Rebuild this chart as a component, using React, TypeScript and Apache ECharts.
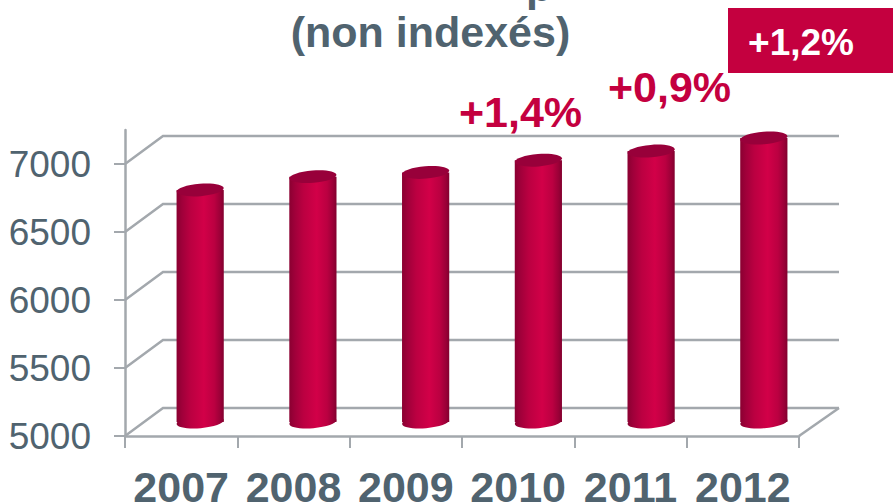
import React, { useEffect, useRef } from "react";
import * as echarts from "echarts";

const years = ["2007", "2008", "2009", "2010", "2011", "2012"];
const values = [6706, 6804, 6835, 6925, 6992, 7088];
const yTicks = [5000, 5500, 6000, 6500, 7000];
const subtitle = "(non indexés)";
const growthLabels = ["+1,4%", "+0,9%", "+1,2%"];

const FONT = '"Liberation Sans", Arial, sans-serif';
const SLATE = "#50636f";
const CRIMSON = "#c4003f";
const LINE = "#a3a8ad";
const DEPTH_X = 38;
const DEPTH_Y = 28;
const RIGHT_EXTRA = 40;

export default function App() {
  const ref = useRef<HTMLDivElement>(null);
  useEffect(() => {
    document.body.style.margin = "0";
    const chart = echarts.init(ref.current!, null, { renderer: "svg" });
    const bodyFill = {
      type: "linear", x: 0, y: 0, x2: 1, y2: 0,
      colorStops: [
        { offset: 0, color: "#8a0031" },
        { offset: 0.12, color: "#a0003a" },
        { offset: 0.3, color: "#bb0041" },
        { offset: 0.58, color: "#d20048" },
        { offset: 0.8, color: "#bb0041" },
        { offset: 0.93, color: "#9a0037" },
        { offset: 1, color: "#82002e" },
      ],
    };
    chart.setOption({
      animation: false,
      backgroundColor: "#fff",
      grid: { left: 125, right: 94, top: 130, height: 306, outerBoundsMode: "none" },
      xAxis: {
        type: "category",
        data: years,
        axisLine: { lineStyle: { color: LINE, width: 2.5 } },
        axisTick: { show: true, alignWithLabel: false, length: 12, lineStyle: { color: LINE, width: 2 } },
        axisLabel: { interval: 0, fontFamily: FONT, fontWeight: "bold", fontSize: 43, color: SLATE, margin: 29 },
      },
      yAxis: {
        type: "value",
        min: 5000,
        max: 7250,
        interval: 500,
        splitLine: { show: false },
        axisLine: { show: true, lineStyle: { color: LINE, width: 2.5 } },
        axisTick: { show: true, length: 11, customValues: yTicks, lineStyle: { color: LINE, width: 2 } },
        axisLabel: { customValues: yTicks, formatter: (v: number) => String(v), fontFamily: FONT, fontSize: 37, color: SLATE, margin: 34 },
      },
      series: [
        {
          type: "custom",
          clip: false,
          silent: true,
          z: 1,
          data: yTicks.map((v) => [0, v]),
          renderItem: (params: any, api: any) => {
            const y = api.coord([0, api.value(1)])[1];
            const x0 = params.coordSys.x;
            const x1 = x0 + params.coordSys.width;
            const style = { stroke: LINE, lineWidth: 2.5, fill: "none" };
            const children: any[] = [
              { type: "polyline", shape: { points: [[x0, y], [x0 + DEPTH_X, y - DEPTH_Y], [x1 + RIGHT_EXTRA, y - DEPTH_Y]] }, style },
            ];
            if (api.value(1) === yTicks[0]) {
              children.push({ type: "line", shape: { x1, y1: y, x2: x1 + RIGHT_EXTRA, y2: y - DEPTH_Y }, style });
            }
            return { type: "group", children };
          },
        },
        {
          type: "custom",
          clip: false,
          silent: true,
          z: 2,
          data: values.map((v, i) => [i, v]),
          renderItem: (_: any, api: any) => {
            const idx = api.value(0);
            const [cx0, top0] = api.coord([idx, api.value(1)]);
            const [, base0] = api.coord([idx, 5000]);
            const cx = cx0 + 19 + idx * 0.4;
            const top = top0 - DEPTH_Y / 2;
            const base = base0 - DEPTH_Y / 2;
            const rx = 23.6;
            const ry = 6.2;
            const rotation = 0.08;
            return {
              type: "group",
              children: [
                { type: "ellipse", shape: { cx: 0, cy: 0, rx, ry }, x: cx, y: base, rotation, style: { fill: bodyFill } },
                { type: "rect", shape: { x: cx - rx, y: top, width: rx * 2, height: base - top }, style: { fill: bodyFill } },
                { type: "ellipse", shape: { cx: 0, cy: 0, rx, ry }, x: cx, y: top, rotation, style: { fill: "#98003a" } },
              ],
            };
          },
        },
      ],
      graphic: [
        { type: "text", x: 526, y: -14, style: { text: "p", font: `bold 43px ${FONT}`, fill: SLATE, textAlign: "left", textVerticalAlign: "middle" } },
        { type: "text", x: 430.5, y: 32, style: { text: subtitle, font: `bold 43px ${FONT}`, fill: SLATE, textAlign: "center", textVerticalAlign: "middle" } },
        { type: "text", x: 520.5, y: 112, style: { text: growthLabels[0], font: `bold 43px ${FONT}`, fill: CRIMSON, textAlign: "center", textVerticalAlign: "middle" } },
        { type: "text", x: 669.5, y: 87, style: { text: growthLabels[1], font: `bold 43px ${FONT}`, fill: CRIMSON, textAlign: "center", textVerticalAlign: "middle" } },
        { type: "rect", shape: { x: 728, y: 8, width: 165, height: 65 }, style: { fill: CRIMSON } },
        { type: "text", x: 801, y: 42, style: { text: growthLabels[2], font: `bold 37px ${FONT}`, fill: "#fff", textAlign: "center", textVerticalAlign: "middle" } },
      ],
    });
    return () => chart.dispose();
  }, []);
  return <div ref={ref} style={{ position: "absolute", left: 0, top: 0, width: 893, height: 502 }} />;
}
